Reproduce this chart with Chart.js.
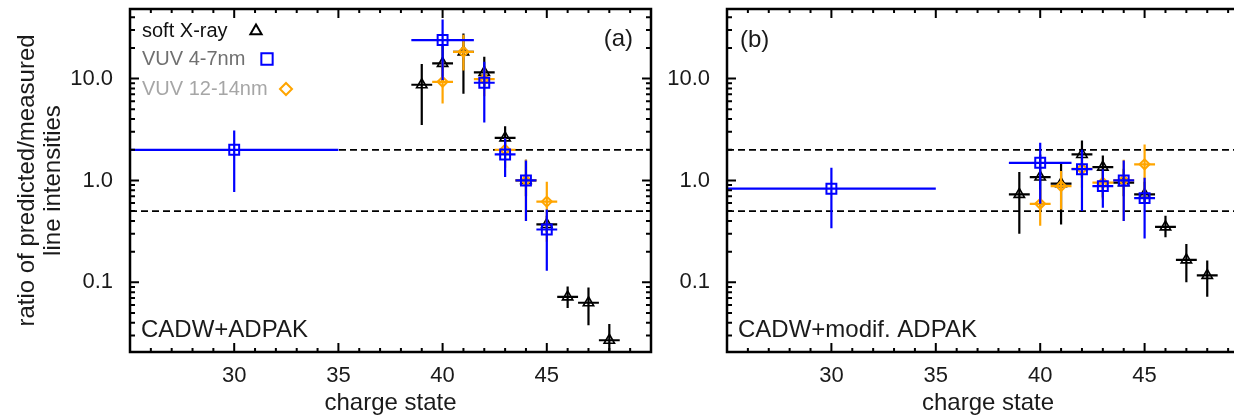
<!DOCTYPE html>
<html><head><meta charset="utf-8">
<script src="https://cdn.jsdelivr.net/npm/chart.js@4"></script>
<style>
html,body{margin:0;padding:0;background:#fff;overflow:hidden;}
#wrap{position:relative;width:1234px;height:419px;overflow:hidden;background:#fff;}
#c1{position:absolute;left:0;top:0;width:660px;height:419px;}
#c2{position:absolute;left:660px;top:0;width:660px;height:419px;}
</style></head><body>
<div id="wrap"><canvas id="c1" width="660" height="419"></canvas><canvas id="c2" width="660" height="419"></canvas></div>
<script>
// ---- axis ticks ----
const chargeTicks = [30, 35, 40, 45];
const chargeTickLabels = ['30', '35', '40', '45'];
const ratioTicks = [0.1, 1, 10];
const ratioTickLabels = ['0.1', '1.0', '10.0'];
const chargeRange = [25, 50];
const ratioRange = [0.0207, 48.2];
const ratioBand = [2, 0.5];

// ---- panel (a): CADW+ADPAK ----
const xrayChargeA = [39, 40, 41, 42, 43, 44, 45, 46, 47, 48];
const xrayRatioA  = [8.7, 14.1, 18.3, 11.5, 2.62, 1.0, 0.37, 0.072, 0.063, 0.027];
const xrayHighA   = [13.9, 21, 27.7, 16.4, 3.4, 1.6, 0.45, 0.091, 0.089, 0.039];
const xrayLowA    = [3.5, 9.4, 7.1, 8.4, 2.0, 0.7, 0.31, 0.056, 0.038, 0.019];
const xrayXErrA   = [0.5, 0.5, 0.5, 0.5, 0.5, 0.5, 0.5, 0.5, 0.5, 0.5];

const vuv47ChargeA = [30, 40, 42, 43, 44, 45];
const vuv47RatioA  = [2.0, 23.9, 9.1, 1.8, 1.0, 0.33];
const vuv47HighA   = [3.1, 38, 14.6, 2.6, 1.57, 0.52];
const vuv47LowA    = [0.77, 9.7, 3.7, 1.08, 0.40, 0.13];
const vuv47XErrA   = [5, 1.5, 0.5, 0.5, 0.5, 0.5];

const vuv1214ChargeA = [40, 41, 42, 43, 44, 45];
const vuv1214RatioA  = [9.3, 18.3, 9.9, 2.0, 1.0, 0.62];
const vuv1214HighA   = [14.6, 27, 13, 2.6, 1.6, 0.97];
const vuv1214LowA    = [5.7, 12, 6.7, 1.33, 0.4, 0.25];
const vuv1214XErrA   = [0.5, 0.5, 0.5, 0.5, 0.5, 0.5];

// ---- panel (b): CADW+modif. ADPAK ----
const xrayChargeB = [39, 40, 41, 42, 43, 44, 45, 46, 47, 48];
const xrayRatioB  = [0.73, 1.08, 0.93, 1.8, 1.35, 0.95, 0.73, 0.35, 0.166, 0.117];
const xrayHighB   = [1.21, 1.8, 1.49, 2.47, 1.76, 1.3, 0.97, 0.45, 0.238, 0.164];
const xrayLowB    = [0.30, 0.5, 0.37, 1.06, 0.68, 0.7, 0.61, 0.277, 0.10, 0.072];
const xrayXErrB   = [0.5, 0.5, 0.5, 0.5, 0.5, 0.5, 0.5, 0.5, 0.5, 0.5];

const vuv47ChargeB = [30, 40, 42, 43, 44, 45];
const vuv47RatioB  = [0.83, 1.49, 1.29, 0.88, 1.0, 0.67];
const vuv47HighB   = [1.33, 2.34, 2.0, 1.29, 1.57, 1.06];
const vuv47LowB    = [0.34, 0.59, 0.5, 0.54, 0.40, 0.27];
const vuv47XErrB   = [5, 1.5, 0.5, 0.5, 0.5, 0.5];

const vuv1214ChargeB = [40, 41, 42, 43, 44, 45];
const vuv1214RatioB  = [0.59, 0.88, 1.3, 0.95, 1.0, 1.44];
const vuv1214HighB   = [0.82, 1.24, 1.5, 1.24, 1.6, 2.25];
const vuv1214LowB    = [0.36, 0.52, 0.85, 0.65, 0.4, 0.68];
const vuv1214XErrB   = [0.5, 0.5, 0.5, 0.5, 0.5, 0.5];

const seriesNames = ['soft X-ray', 'VUV 4-7nm', 'VUV 12-14nm'];
const panelLabels = ['(a)', '(b)'];
const modelLabels = ['CADW+ADPAK', 'CADW+modif. ADPAK'];

const FONT = "'Liberation Sans', Arial, Helvetica, sans-serif";
const BLACK = '#000000', BLUE = '#0000ff', ORANGE = '#ffa500';

function pts(xs, ys) { return xs.map((x, i) => ({x: x, y: ys[i]})); }

function makeSets(p) {
  return [
    {label: seriesNames[1], data: pts(p.bc, p.br), errHigh: p.bh, errLow: p.bl, xErr: p.bx,
     borderColor: BLUE, backgroundColor: 'rgba(0,0,0,0)', pointStyle: 'rect', pointRadius: 7, borderWidth: 2, showLine: false},
    {label: seriesNames[2], data: pts(p.oc, p.or), errHigh: p.oh, errLow: p.ol, xErr: p.ox,
     borderColor: ORANGE, backgroundColor: 'rgba(0,0,0,0)', pointStyle: 'rectRot', pointRadius: 5, borderWidth: 2, showLine: false},
    {label: seriesNames[0], data: pts(p.kc, p.kr), errHigh: p.kh, errLow: p.kl, xErr: p.kx,
     borderColor: BLACK, backgroundColor: 'rgba(0,0,0,0)', pointStyle: 'triangle', pointRadius: 6, borderWidth: 1.6, showLine: false}
  ];
}

const errorBars = {
  id: 'errorBars',
  beforeDatasetDraw(chart, args) {
    const ds = chart.data.datasets[args.index];
    const xs = chart.scales.x, ys = chart.scales.y, ctx = chart.ctx, a = chart.chartArea;
    ctx.save();
    ctx.beginPath(); ctx.rect(a.left, a.top, a.right - a.left, a.bottom - a.top); ctx.clip();
    ctx.strokeStyle = ds.borderColor; ctx.lineWidth = 2.2; ctx.lineCap = 'butt';
    ds.data.forEach((p, i) => {
      const px = xs.getPixelForValue(p.x), py = ys.getPixelForValue(p.y);
      ctx.beginPath();
      ctx.moveTo(px, ys.getPixelForValue(ds.errHigh[i]));
      ctx.lineTo(px, ys.getPixelForValue(ds.errLow[i]));
      ctx.moveTo(xs.getPixelForValue(p.x - ds.xErr[i]), py);
      ctx.lineTo(xs.getPixelForValue(p.x + ds.xErr[i]), py);
      ctx.stroke();
    });
    ctx.restore();
  }
};

function minorRatioTicks() {
  const out = [];
  [0.01, 0.1, 1, 10].forEach(d => { for (let m = 1; m <= 9; m++) { const v = +(m * d).toPrecision(3); if (v >= ratioRange[0] && v <= ratioRange[1]) out.push(v); } });
  return out;
}

const frame = {
  id: 'frame',
  beforeDatasetsDraw(chart) {
    const ctx = chart.ctx, a = chart.chartArea, ys = chart.scales.y;
    ctx.save();
    ctx.strokeStyle = '#000'; ctx.lineWidth = 1.8; ctx.setLineDash([7, 4]);
    ratioBand.forEach(v => {
      const y = ys.getPixelForValue(v);
      ctx.beginPath(); ctx.moveTo(a.left, y); ctx.lineTo(a.right, y); ctx.stroke();
    });
    ctx.restore();
  },
  afterDraw(chart, args, opts) {
    const ctx = chart.ctx, a = chart.chartArea, xs = chart.scales.x, ys = chart.scales.y;
    ctx.save();
    ctx.strokeStyle = '#000'; ctx.lineWidth = 2;
    minorRatioTicks().forEach(v => {
      const y = ys.getPixelForValue(v);
      const major = ratioTicks.some(t => Math.abs(t - v) < 1e-9);
      const L = major ? 9 : 5;
      ctx.beginPath();
      ctx.moveTo(a.left, y); ctx.lineTo(a.left + L, y);
      ctx.moveTo(a.right, y); ctx.lineTo(a.right - L, y);
      ctx.stroke();
    });
    for (let c = chargeRange[0] + 1; c < chargeRange[1]; c++) {
      const x = xs.getPixelForValue(c);
      const L = chargeTicks.includes(c) ? 9 : 4;
      ctx.beginPath();
      ctx.moveTo(x, a.bottom); ctx.lineTo(x, a.bottom - L);
      ctx.moveTo(x, a.top); ctx.lineTo(x, a.top + L);
      ctx.stroke();
    }
    ctx.lineWidth = 2.5;
    ctx.strokeRect(a.left, a.top, a.right - a.left, a.bottom - a.top);
    ctx.textBaseline = 'middle';
    ctx.fillStyle = '#1a1a1a';
    ctx.font = '24px ' + FONT;
    ctx.textAlign = 'left';
    ctx.fillText(opts.model, a.left + 11, a.bottom - 22);
    if (opts.panelRight) { ctx.textAlign = 'right'; ctx.fillText(opts.panel, a.right - 18, a.top + 30); }
    else { ctx.textAlign = 'left'; ctx.fillText(opts.panel, a.left + 13, a.top + 31); }
    if (opts.legend) {
      ctx.font = '20px ' + FONT; ctx.textAlign = 'left';
      const rows = [
        {t: seriesNames[0], c: '#111111', y: a.top + 22, mx: 126, st: 'triangle', col: BLACK, r: 6.5},
        {t: seriesNames[1], c: '#707070', y: a.top + 50, mx: 137, st: 'rect', col: BLUE, r: 8},
        {t: seriesNames[2], c: '#a6a6a6', y: a.top + 80, mx: 156, st: 'rectRot', col: ORANGE, r: 6}
      ];
      rows.forEach(r => {
        ctx.fillStyle = r.c;
        ctx.fillText(r.t, a.left + 12, r.y);
        ctx.strokeStyle = r.col; ctx.lineWidth = 2; ctx.fillStyle = 'rgba(0,0,0,0)';
        Chart.helpers.drawPoint(ctx, {pointStyle: r.st, radius: r.r, borderWidth: 2, rotation: 0}, a.left + r.mx, r.y);
      });
    }
    ctx.restore();
  }
};

function makeChart(id, sets, yAxisWidth, padRight, showTitle, opts) {
  return new Chart(document.getElementById(id), {
    type: 'scatter',
    data: {datasets: sets},
    options: {
      responsive: false, animation: false, events: [],
      devicePixelRatio: 1,
      layout: {padding: {top: 7, right: padRight, bottom: 0, left: 0}},
      plugins: {legend: {display: false}, tooltip: {enabled: false}, frame: opts},
      scales: {
        x: {
          type: 'linear', min: chargeRange[0], max: chargeRange[1],
          afterBuildTicks: s => { s.ticks = chargeTicks.map(v => ({value: v})); },
          afterFit: s => { s.height = 67; s.paddingLeft = 0; s.paddingRight = 0; },
          grid: {display: false}, border: {display: false},
          ticks: {autoSkip: false, maxRotation: 0, padding: 3, color: '#1a1a1a', font: {family: FONT, size: 22},
                  callback: v => { const i = chargeTicks.indexOf(v); return i >= 0 ? chargeTickLabels[i] : ''; }},
          title: {display: true, text: 'charge state', color: '#1a1a1a', font: {family: FONT, size: 24}, padding: {top: 0, bottom: 1}}
        },
        y: {
          type: 'logarithmic', min: ratioRange[0], max: ratioRange[1],
          afterBuildTicks: s => { s.ticks = ratioTicks.map(v => ({value: v})); },
          afterFit: s => { s.width = yAxisWidth; s.paddingTop = 0; s.paddingBottom = 0; },
          grid: {display: false}, border: {display: false},
          ticks: {autoSkip: false, padding: 9, color: '#1a1a1a', font: {family: FONT, size: 22},
                  callback: v => { const i = ratioTicks.findIndex(t => Math.abs(t - v) < 1e-9); return i >= 0 ? ratioTickLabels[i] : ''; }},
          title: {display: showTitle, text: ['ratio of predicted/measured', 'line intensities'], color: '#1a1a1a',
                  font: {family: FONT, size: 24, lineHeight: 1.08}, padding: {top: 14, bottom: 0}}
        }
      }
    },
    plugins: [errorBars, frame]
  });
}

makeChart('c1', makeSets({
  kc: xrayChargeA, kr: xrayRatioA, kh: xrayHighA, kl: xrayLowA, kx: xrayXErrA,
  bc: vuv47ChargeA, br: vuv47RatioA, bh: vuv47HighA, bl: vuv47LowA, bx: vuv47XErrA,
  oc: vuv1214ChargeA, or: vuv1214RatioA, oh: vuv1214HighA, ol: vuv1214LowA, ox: vuv1214XErrA
}), 130, 8, true, {panel: panelLabels[0], model: modelLabels[0], legend: true, panelRight: true});

makeChart('c2', makeSets({
  kc: xrayChargeB, kr: xrayRatioB, kh: xrayHighB, kl: xrayLowB, kx: xrayXErrB,
  bc: vuv47ChargeB, br: vuv47RatioB, bh: vuv47HighB, bl: vuv47LowB, bx: vuv47XErrB,
  oc: vuv1214ChargeB, or: vuv1214RatioB, oh: vuv1214HighB, ol: vuv1214LowB, ox: vuv1214XErrB
}), 67, 71, false, {panel: panelLabels[1], model: modelLabels[1], legend: false, panelRight: false});
</script>
</body></html>
